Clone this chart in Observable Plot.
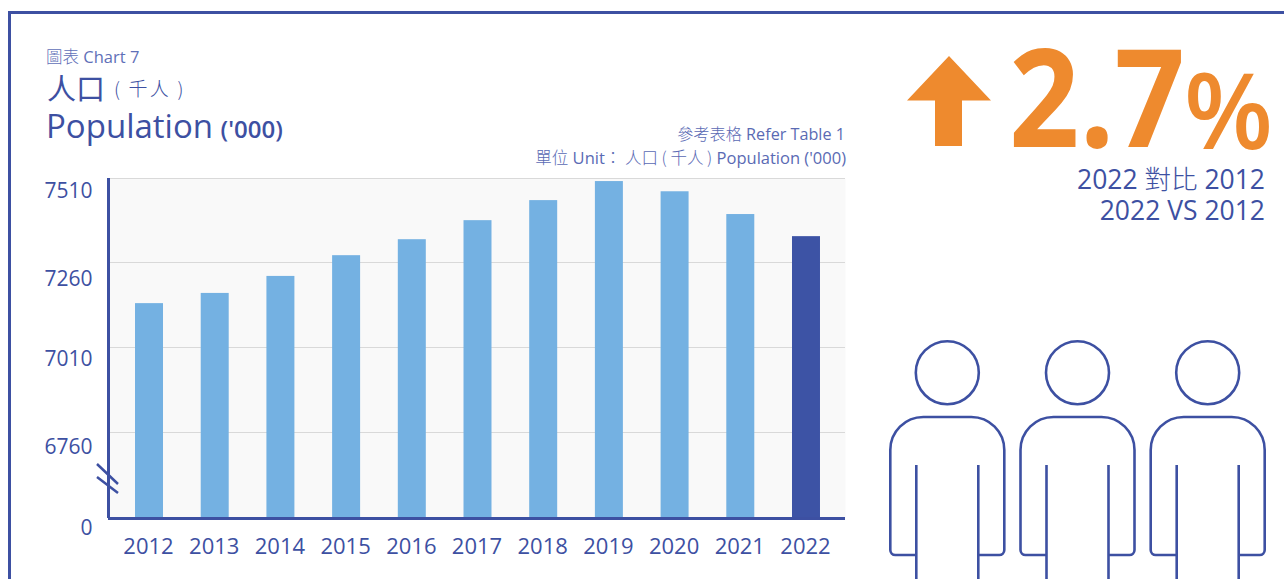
<!DOCTYPE html>
<html><head><meta charset="utf-8">
<script src="https://cdn.jsdelivr.net/npm/d3@7"></script>
<script src="https://cdn.jsdelivr.net/npm/@observablehq/plot@0.6"></script>
<style>
html,body{margin:0;padding:0;background:#fff;overflow:hidden}
#page{position:relative;width:1284px;height:579px;overflow:hidden;font-family:"Open Sans","Noto Sans CJK TC",sans-serif;color:#3d50a2}
#page>svg,#chart{position:absolute;left:0;top:0}
.t{position:absolute;white-space:nowrap;line-height:1}
.cjk{font-family:"Noto Sans CJK TC","Noto Sans",sans-serif}
</style></head><body>
<div id="page">
<div id="chart"></div>
<svg id="deco" width="1284" height="579"></svg>
<div class="t" style="left:46px;top:48px;font-size:16.5px;color:#5f70b8;font-weight:400"><span class="cjk" style="font-weight:300">圖表</span> Chart 7</div>
<div class="t cjk" style="left:47px;top:73px;font-size:29px;font-weight:400;color:#3d50a2">人口<span style="font-size:19px;font-weight:300;margin-left:9px;letter-spacing:2.2px;position:relative;top:-4px">( 千人 )</span></div>
<div class="t" style="left:46px;top:109px;font-size:33px;font-family:'Open Sans';font-weight:500;color:#3d50a2">Population <span style="font-size:24px;font-weight:600;margin-left:-1px">('000)</span></div>
<div class="t" style="right:439px;top:125px;font-size:16.2px;color:#5a6ab4;font-weight:400"><span class="cjk" style="font-weight:300">參考表格</span> Refer Table 1</div>
<div class="t" style="right:438px;top:149px;font-size:16.5px;color:#5a6ab4;font-weight:400"><span class="cjk" style="font-weight:300">單位</span> Unit<span class="cjk" style="font-weight:300">： 人口 ( 千人 )</span> Population ('000)</div>
<div class="t" style="right:19px;top:165px;font-size:26.5px;color:#3d50a2;font-weight:400">2022 <span class="cjk" style="font-weight:300">對比</span> 2012</div>
<div class="t" style="right:19px;top:197px;font-size:26.5px;color:#3d50a2;font-weight:400">2022 VS 2012</div>
</div>
<script>
const years = ["2012","2013","2014","2015","2016","2017","2018","2019","2020","2021","2022"];
const population = [7142,7172,7222,7283,7330,7386,7445,7501,7471,7404,7339];
const gridValues = [6760,7010,7260];
const topGrid = [7510];
const tickValues = [7510,7260,7010,6760,6510];
const tickLabels = ["7510","7260","7010","6760","0"];
const tickNudge = [13,16,11,14,10];
const blue = "#3d50a2", barBlue = "#74b1e2", barDark = "#3d53a5", orange = "#ee8a2e";
const rows = years.map((year,i)=>({year,value:population[i]}));

const chart = Plot.plot({
  width:1284, height:579,
  marginLeft:108, marginRight:439, marginTop:178, marginBottom:61,
  style:{background:"transparent",overflow:"visible"},
  x:{domain:years,paddingInner:0.574,paddingOuter:0.396,round:false,axis:null},
  y:{domain:[6510,7510],axis:null},
  marks:[
    Plot.frame({fill:"#f9f9f9",stroke:null}),
    Plot.ruleY(gridValues,{stroke:"#d9d9d9",strokeWidth:1,dy:-1}),
    Plot.ruleY(topGrid,{stroke:"#d9d9d9",strokeWidth:1}),
    Plot.barY(rows,{x:"year",y1:6510,y2:"value",dx:1,fill:d=>d.year==="2022"?barDark:barBlue}),
    Plot.ruleY([6510],{stroke:blue,strokeWidth:3}),
    Plot.axisX({anchor:"bottom",tickSize:0,tickPadding:20,label:null,fontSize:22,fill:blue,fontFamily:"Open Sans",fontWeight:400}),
    ...tickValues.map((v,i)=>Plot.text([v],{y:d=>d,frameAnchor:"left",dx:-16,dy:tickNudge[i],text:()=>tickLabels[i],textAnchor:"end",fontSize:21,fontWeight:500,fill:blue,fontFamily:"Open Sans"}))
  ]
});
document.getElementById("chart").appendChild(chart);

const svg = d3.select("#deco");
// outer frame
svg.append("path").attr("d","M1284 12.5H9.5V579").attr("fill","none").attr("stroke",blue).attr("stroke-width",3);
// y axis and break marks
svg.append("path").attr("d","M108.5 178V518").attr("stroke",blue).attr("stroke-width",3);
svg.append("path").attr("d","M97 464L118 484M97 477L118 493").attr("stroke",blue).attr("stroke-width",2.5).attr("fill","none");
// arrow
svg.append("path").attr("d","M949 56L991 100.500H962V146H935V100.500H907Z").attr("fill",orange);
// big number
svg.append("text").text("2.7").attr("x",1009).attr("y",147).attr("font-family","Open Sans").attr("font-weight",700).attr("font-size",137).attr("fill",orange).attr("textLength",176).attr("lengthAdjust","spacingAndGlyphs");
svg.append("text").text("%").attr("x",1184).attr("y",149).attr("font-family","Open Sans").attr("font-weight",600).attr("font-size",105).attr("fill",orange).attr("textLength",89).attr("lengthAdjust","spacingAndGlyphs");
// people
[947.3,1077.5,1207.7].forEach(cx=>{
  const g = svg.append("g").attr("fill","none").attr("stroke",blue).attr("stroke-width",2.6);
  g.append("circle").attr("cx",cx).attr("cy",372.700).attr("r",31.500);
  g.append("path").attr("d",`M${cx-31} 555H${cx-52}a5 5 0 0 1 -5 -5V450a33 33 0 0 1 33 -33H${cx+24}a33 33 0 0 1 33 33V550a5 5 0 0 1 -5 5H${cx+31}`);
  g.append("path").attr("d",`M${cx-31} 465V579M${cx+31} 465V579`);
});
</script>
</body></html>
